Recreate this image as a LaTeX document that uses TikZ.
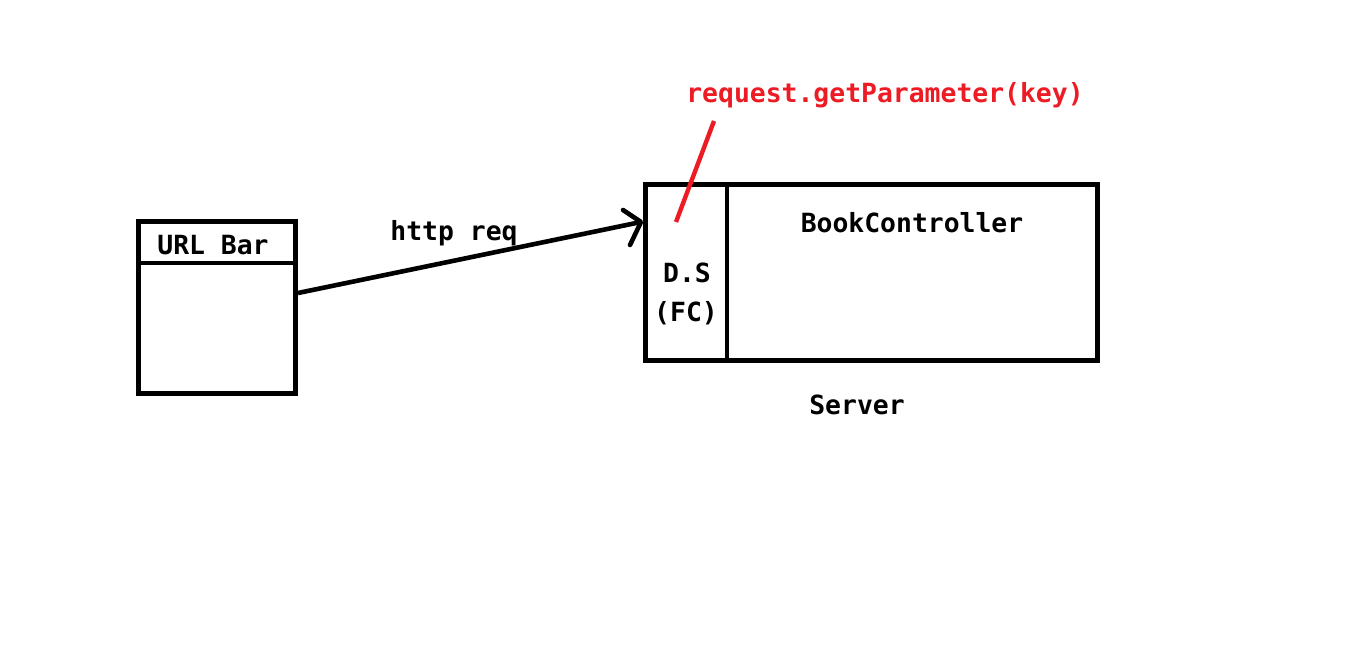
\documentclass[tikz,border=0pt]{standalone}
\usepackage{fontspec}
\setmonofont{DejaVu Sans Mono}
\definecolor{pred}{RGB}{237,28,36}
\begin{document}
\begin{tikzpicture}[x=1pt,y=-1pt,
  lbl/.style={font=\ttfamily\bfseries\fontsize{26.4}{30}\selectfont, inner sep=0pt, anchor=center},
  boxst/.style={draw, line width=4.6pt, inner sep=0pt, rectangle},
  ln/.style={line width=4.6pt},
  rl/.style={line width=4.4pt, draw=pred}]
\useasboundingbox (0,0) rectangle (1359,654);
\fill[white] (0,0) rectangle (1359,654);
% URL bar box
\node[boxst, minimum width=157.5pt, minimum height=172.5pt] (url) at (217,307.5) {};
\coordinate (ul) at (138,263);
\coordinate (ur) at (296,263);
\draw[ln] (ul) -- (ur);
\node[lbl] (urltxt) at (213,245) {URL Bar};
% Server box
\node[boxst, minimum width=452.5pt, minimum height=176.5pt] (srv) at (871.5,272.5) {};
\coordinate (dt) at (727,186);
\coordinate (db) at (727,361);
\draw[ln] (dt) -- (db);
\node[lbl] (ds) at (687,273) {D.S};
\node[lbl] (fc) at (686,313) {(FC)};
\node[lbl] (bc) at (912,223) {BookController};
\node[lbl] (server) at (857,405) {Server};
% arrow
\coordinate (a) at (298,293);
\coordinate (b) at (641,222);
\coordinate (b1) at (623,210);
\coordinate (b2) at (630,245);
\draw[ln] (a) -- (b);
\draw[ln, line cap=round, line join=round] (b1) -- (b) -- (b2);
\node[lbl] (http) at (454,233) {http req};
% red annotation
\node[lbl, text=pred] (rp) at (885,95) {request.getParameter(key)};
\coordinate (r1) at (714,121);
\coordinate (r2) at (676,222);
\draw[rl] (r1) -- (r2);
\end{tikzpicture}
\end{document}
